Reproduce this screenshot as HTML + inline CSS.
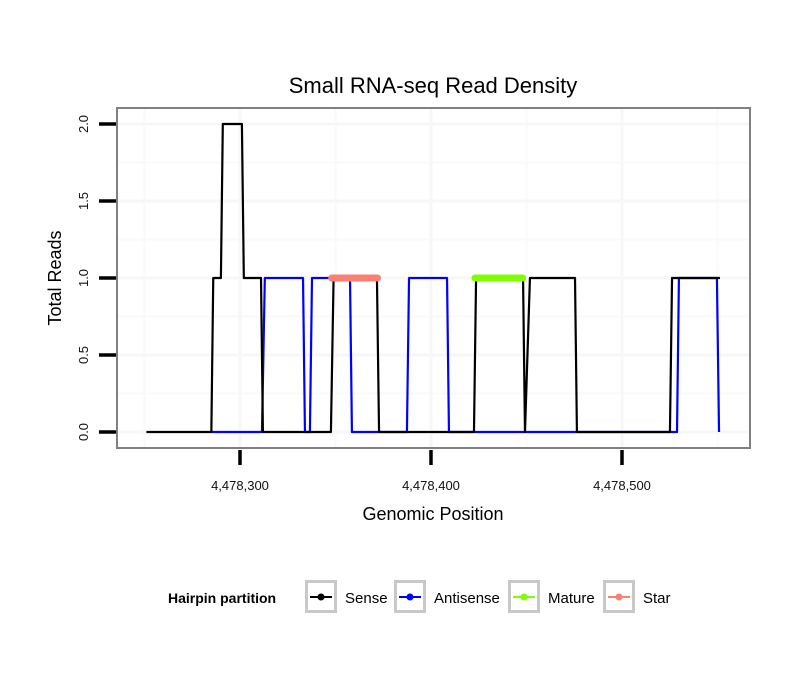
<!DOCTYPE html>
<html><head><meta charset="utf-8"><style>
body{margin:0;background:#fff;}
svg text{font-family:"Liberation Sans",Arial,sans-serif;}
</style></head><body>
<svg id="chart" width="810" height="690" viewBox="0 0 810 690" xmlns="http://www.w3.org/2000/svg">
<rect width="810" height="690" fill="#fff"/>
<text x="433" y="93" font-size="22" text-anchor="middle">Small RNA-seq Read Density</text>
<g id="grid"></g>
<g id="series"></g>
<rect x="117" y="108" width="633" height="340" fill="none" stroke="#808080" stroke-width="2"/>
<g id="axes"></g>
<text x="433" y="520" font-size="18" text-anchor="middle">Genomic Position</text>
<text transform="translate(61,278) rotate(-90)" font-size="18" text-anchor="middle">Total Reads</text>
<g id="legend">
<text x="168" y="603" font-size="14" font-weight="bold">Hairpin partition</text>
</g>
</svg>
<script>
const sensePos=[4478251,4478285,4478286,4478290,4478291,4478301,4478302,4478311,4478312,4478347.6,4478349,4478371.7,4478372.8,4478422.5,4478423.6,4478448.2,4478449.2,4478451.8,4478475.4,4478476.4,4478525.1,4478526.2,4478551.3];
const senseVal=[0,0,1,1,2,2,1,1,0,0,1,1,0,0,1,1,0,1,1,0,0,1,1];
const antiPos=[4478285.3,4478311.5,4478313,4478333,4478334,4478336.6,4478337.7,4478357.6,4478358.6,4478387.4,4478388.5,4478408.4,4478409.4,4478528.8,4478529.8,4478549.7,4478550.8];
const antiVal=[0,0,1,1,0,0,1,1,0,0,1,1,0,0,1,1,0];
const maturePos=[4478423,4478448];
const matureVal=[1,1];
const starPos=[4478348,4478372];
const starVal=[1,1];
const xTicks=[4478300,4478400,4478500];
const xTickLabels=["4,478,300","4,478,400","4,478,500"];
const yTicks=[0,0.5,1,1.5,2];
const yTickLabels=["0.0","0.5","1.0","1.5","2.0"];

const NS="http://www.w3.org/2000/svg";
const X=v=>240+(v-4478300)*1.91;
const Y=v=>432-v*154;
function mk(tag,attrs,parent){const e=document.createElementNS(NS,tag);for(const k in attrs)e.setAttribute(k,attrs[k]);parent.appendChild(e);return e;}
const grid=document.getElementById('grid'),series=document.getElementById('series'),axes=document.getElementById('axes'),legend=document.getElementById('legend');
mk('rect',{x:117,y:108,width:633,height:340,fill:'#fff'},grid);
[0.25,0.75,1.25,1.75].forEach(v=>{const l=mk('line',{x1:117,x2:750,y1:Y(v),y2:Y(v),stroke:'#fafafa','stroke-width':2},grid);

});
[4478250,4478350,4478450,4478550].forEach(v=>{const l=mk('line',{x1:X(v),x2:X(v),y1:108,y2:448,stroke:'#fafafa','stroke-width':2},grid);

});
yTicks.forEach(v=>{const l=mk('line',{x1:117,x2:750,y1:Y(v),y2:Y(v),stroke:'#f7f7f7','stroke-width':3},grid);

});
xTicks.forEach(v=>{const l=mk('line',{x1:X(v),x2:X(v),y1:108,y2:448,stroke:'#f7f7f7','stroke-width':3},grid);

});
function line(pos,val,color,w,name,cap){const p=mk('polyline',{points:pos.map((x,i)=>X(x)+','+Y(val[i])).join(' '),fill:'none',stroke:color,'stroke-width':w,'stroke-linecap':cap||'butt','stroke-linejoin':'round'},series);

}
line(antiPos,antiVal,'#0000ff',2.2,'antisense-line');
line(sensePos,senseVal,'#000',2.2,'sense-line');
line(maturePos,matureVal,'#7fff00',7,'mature-line','round');
line(starPos,starVal,'#fa8072',7,'star-line','round');
yTicks.forEach((v,i)=>{const t=mk('line',{x1:99,x2:116,y1:Y(v),y2:Y(v),stroke:'#000','stroke-width':3.5},axes);


const tx=mk('text',{transform:`translate(88,${Y(v)}) rotate(-90)`,'font-size':13,'text-anchor':'middle',fill:'#111'},axes);tx.textContent=yTickLabels[i];

});
xTicks.forEach((v,i)=>{const t=mk('line',{x1:X(v),x2:X(v),y1:450,y2:465,stroke:'#000','stroke-width':3.5},axes);


const tx=mk('text',{x:X(v),y:490,'font-size':13,'text-anchor':'middle',fill:'#111'},axes);tx.textContent=xTickLabels[i];

});
const legItems=[["Sense","#000",305],["Antisense","#0000ff",394],["Mature","#7fff00",508],["Star","#fa8072",603]];
legItems.forEach(([lab,c,x])=>{const g=mk('g',{},legend);


mk('rect',{x:x+1.5,y:581.5,width:29,height:30,fill:'#fff',stroke:'#c8c8c8','stroke-width':3},g);
mk('line',{x1:x+5,x2:x+27,y1:597,y2:597,stroke:c,'stroke-width':2},g);
mk('circle',{cx:x+16,cy:597,r:3.5,fill:c},g);
const t=mk('text',{x:x+40,y:603,'font-size':15},g);t.textContent=lab;});
</script>
</body></html>
